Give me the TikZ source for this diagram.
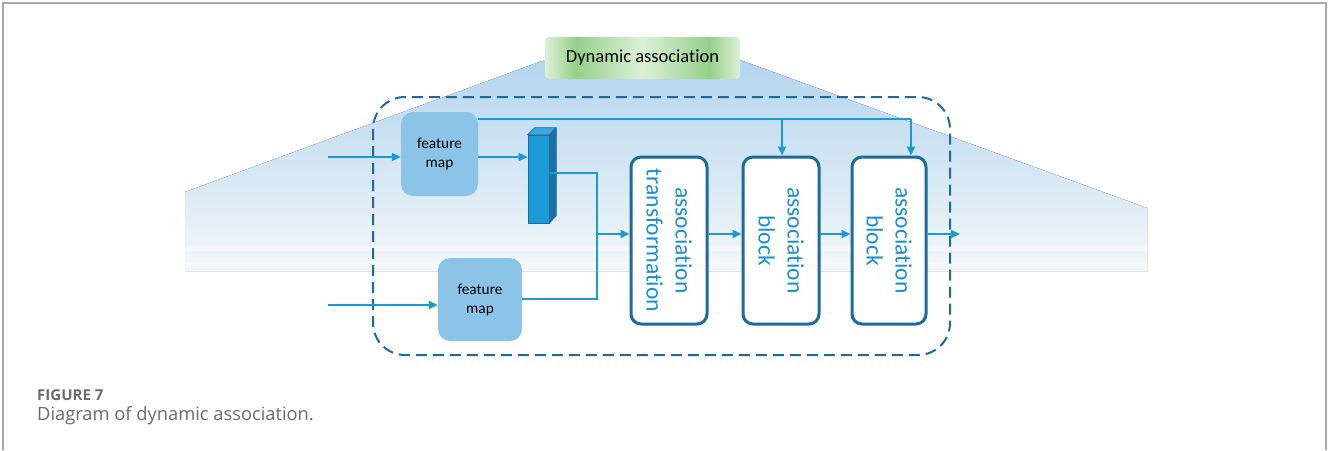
\documentclass[tikz,border=0pt]{standalone}
\usepackage{fontspec}
\setmainfont{Carlito}[Ligatures={NoCommon}]
\newfontfamily\capfont{Open Sans}
\usetikzlibrary{arrows.meta}
\definecolor{arrblue}{HTML}{1A9AD6}
\definecolor{dashblue}{HTML}{1F6A9C}
\definecolor{blkblue}{HTML}{1B6B9E}
\definecolor{txtblue}{HTML}{1A8FD0}
\definecolor{fmfill}{HTML}{8CC4E8}
\definecolor{fantop}{HTML}{B3D5EE}
\definecolor{fanbot}{HTML}{F4F8FA}
\definecolor{gl}{HTML}{DDF0D8}
\definecolor{gd}{HTML}{95D08A}
\definecolor{capgray}{HTML}{6A6A6A}
\definecolor{frame}{HTML}{A8A8A8}
\pgfdeclarehorizontalshading{greenband}{100bp}{color(0bp)=(gl); color(25bp)=(gl); color(33bp)=(gd); color(50bp)=(gl); color(67bp)=(gd); color(75bp)=(gl); color(100bp)=(gl)}
\tikzset{
  conn/.style={draw=arrblue, line width=1.5pt},
  arr/.style={conn, -{Triangle[length=9pt,width=8pt]}},
  fmap/.style={fill=fmfill, rounded corners=12pt, inner sep=0pt, align=center, font=\fontsize{15.3}{19}\selectfont},
  blk/.style={draw=blkblue, fill=white, line width=3pt, rounded corners=10pt, inner sep=0pt},
  blktxt/.style={rotate=-90, align=center, text=txtblue, font=\fontsize{23.5}{29}\selectfont},
}
\begin{document}
\begin{tikzpicture}[x=1pt, y=-1pt]
\useasboundingbox (0,0) rectangle (1328,450);
% frame
\draw[frame, line width=1.5pt] (3,450) -- (3,3) -- (1326,3) -- (1326,450);
% fan
\fill[top color=fantop, bottom color=fanbot] (542,61) -- (740,60) -- (1147,208) -- (1147,271) -- (185,271) -- (185,192) -- cycle;
\fill[white, opacity=0.35] (185,246) rectangle (1147,251);
\fill[white, opacity=0.3] (185,262) rectangle (1147,264);
% title
\node[shading=greenband, rounded corners=4pt, minimum width=195pt, minimum height=42pt, inner sep=0pt, font=\fontsize{18.5}{20}\selectfont] (title) at (642.5,58) {Dynamic association};
% dashed frame
\draw[dashblue, line width=2pt, dash pattern=on 11pt off 6pt, rounded corners=32pt] (373,97) rectangle (950,355);
% feature maps
\node[fmap, minimum width=77pt, minimum height=84pt] (fm1) at (439.5,154) {feature\\map};
\node[fmap, minimum width=84pt, minimum height=83pt] (fm2) at (480,299.5) {feature\\map};
% cuboid
\node[fill=arrblue, draw=blkblue, line width=0.6pt, minimum width=21pt, minimum height=88pt, inner sep=0pt] (cub) at (538.5,179) {};
\filldraw[fill=arrblue!85!white, draw=blkblue, line width=0.6pt] (cub.north west) -- ++(7,-7) -- ++(21,0) -- (cub.north east) -- cycle;
\filldraw[fill=blkblue!90!arrblue, draw=blkblue, line width=0.6pt] (cub.north east) -- ++(7,-7) -- ++(0,88) -- (cub.south east) -- cycle;
% blocks
\node[blk, minimum width=76pt, minimum height=167pt] (trans) at (669,240.5) {};
\node[blktxt] (transt) at (trans) {association\\transformation};
\node[blk, minimum width=76pt, minimum height=167pt] (b1) at (781,240.5) {};
\node[blktxt] (b1t) at (b1) {association\\block};
\node[blk, minimum width=74pt, minimum height=167pt] (b2) at (889,240.5) {};
\node[blktxt] (b2t) at (b2) {association\\block};
% coordinates
\coordinate (in1) at (328,157);
\coordinate (in2) at (328,305);
\coordinate (c1) at (478,157);
\coordinate (c2) at (560,173);
\coordinate (c3) at (530,299);
\coordinate (j) at (597,234);
\coordinate (tb) at (911,119);
\coordinate (t1) at (782,119);
\coordinate (out) at (960,234);
% connectors
\draw[arr] (in1) -- (in1 -| fm1.west);
\draw[arr] (in2) -- (in2 -| fm2.west);
\draw[arr] (c1 -| fm1.east) -- (c1 -| cub.west);
\draw[conn] (c2 -| cub.east) -| (j);
\draw[conn] (c3 -| fm2.east) -| (j);
\draw[arr] (j) -- (j -| trans.west);
\draw[conn] (tb -| fm1.east) -- (tb);
\draw[arr] (tb) -- (tb |- b2.north);
\draw[arr] (t1) -- (t1 |- b1.north);
\draw[arr] (j -| trans.east) -- (j -| b1.west);
\draw[arr] (j -| b1.east) -- (j -| b2.west);
\draw[arr] (j -| b2.east) -- (out);
% caption
\node[anchor=west, text=capgray, font=\capfont\bfseries\fontsize{15}{16}\selectfont, inner sep=0pt] (fig) at (37,395) {FIGURE 7};
\node[anchor=west, text=capgray, font=\capfont\fontsize{18.3}{20}\selectfont, inner sep=0pt] (cap) at (37,416) {Diagram of dynamic association.};
\end{tikzpicture}
\end{document}
